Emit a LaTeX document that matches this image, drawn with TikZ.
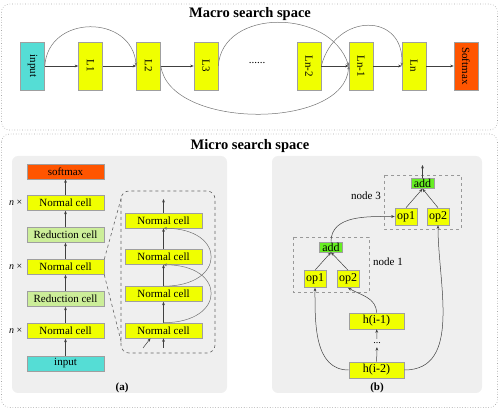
\documentclass[tikz,border=0pt]{standalone}
\usepackage{fontspec}
\setmainfont{Liberation Serif}
\usetikzlibrary{arrows.meta, positioning}

\definecolor{layeryellow}{HTML}{F0FF00}
\definecolor{inputcyan}{HTML}{55DDD5}
\definecolor{outorange}{HTML}{FF5500}
\definecolor{redgreen}{HTML}{CCEE99}
\definecolor{addgreen}{HTML}{66EE22}
\definecolor{panelgray}{HTML}{EFEFEF}

\tikzset{
  box/.style={draw=gray!75, line width=0.6pt, inner sep=0pt},
  layer/.style={box, fill=layeryellow, minimum width=24pt, minimum height=48pt, font=\fontsize{11}{12}\selectfont},
  cell/.style={box, fill=layeryellow, minimum width=77pt, minimum height=15pt, font=\fontsize{11}{12}\selectfont},
  opbox/.style={box, fill=layeryellow, minimum width=22pt, minimum height=17pt, font=\fontsize{12}{13}\selectfont},
  hbox/.style={box, fill=layeryellow, minimum width=55pt, minimum height=16pt, font=\fontsize{12}{13}\selectfont},
  addbox/.style={box, fill=addgreen, minimum width=23pt, minimum height=10pt, font=\fontsize{12}{13}\selectfont},
  link/.style={draw=black!75, line width=0.5pt, -{Stealth[length=3.5pt, width=2.8pt]}},
  skip/.style={draw=black!55, line width=0.5pt, -{Stealth[length=3.5pt, width=2.8pt]}},
}

\begin{document}
\begin{tikzpicture}[x=1pt, y=-1pt]
\useasboundingbox (0,0) rectangle (499,409);

% Outer frames
\draw[gray!70, dotted, line width=0.6pt, rounded corners=8pt] (1.5,4) rectangle (497.5,130);
\draw[gray!70, dotted, line width=0.6pt, rounded corners=8pt] (1.5,134) rectangle (497.5,407.5);
\node[font=\fontsize{14.5}{16}\selectfont\bfseries] at (250,14) {Macro search space};
\node[font=\fontsize{14.5}{16}\selectfont\bfseries] at (250,146) {Micro search space};

% Macro chain
\node[layer, fill=inputcyan] (in) at (32.5,66) {\rotatebox{-90}{input}};
\node[layer] (l1) at (90.5,66) {\rotatebox{-90}{L1}};
\node[layer] (l2) at (148.5,66) {\rotatebox{-90}{L2}};
\node[layer] (l3) at (206,66) {\rotatebox{-90}{L3}};
\node[font=\fontsize{11}{12}\selectfont] (dots) at (257,63) {......};
\node[layer] (ln2) at (309,66) {\rotatebox{-90}{Ln-2}};
\node[layer] (ln1) at (361,66) {\rotatebox{-90}{Ln-1}};
\node[layer] (ln) at (414,66) {\rotatebox{-90}{Ln}};
\node[layer, fill=outorange] (soft) at (466,66) {\rotatebox{-90}{Softmax}};
\draw[link] (in) -- (l1);
\draw[link] (l1) -- (l2);
\draw[link] (l2) -- (l3);
\draw[link] (ln2) -- (ln1);
\draw[link] (ln1) -- (ln);
\draw[link] (ln) -- (soft);
% Skip connections
\draw[skip] (in.east) .. controls (48,14) and (132,14) .. (l2.west);
\draw[skip] (l3.east) .. controls (222,8) and (330,8) .. (ln1.west);
\draw[skip] (l2.east) .. controls (170,130) and (345,130) .. (ln1.west);
\draw[skip] (ln2.east) .. controls (335,12) and (405,12) .. (ln.west);

% Panel (a)
\fill[panelgray, rounded corners=6pt] (12,156) rectangle (227,393);
\node[cell, fill=outorange] (asoft) at (65.5,171.5) {softmax};
\node[cell] (an3) at (65.5,203) {Normal cell};
\node[cell, fill=redgreen] (ar2) at (65.5,235) {Reduction cell};
\node[cell] (an2) at (65.5,267) {Normal cell};
\node[cell, fill=redgreen] (ar1) at (65.5,299) {Reduction cell};
\node[cell] (an1) at (65.5,331) {Normal cell};
\node[cell, fill=inputcyan] (ain) at (65.5,363.5) {input};
\foreach \a/\b in {ain/an1, an1/ar1, ar1/an2, an2/ar2, ar2/an3, an3/asoft}
  \draw[link] (\a) -- (\b);
\foreach \c in {an1, an2, an3}
  \node[font=\fontsize{10}{11}\selectfont, left=1pt of \c] {\textit{n} ×};
\node[font=\fontsize{11}{12}\selectfont\bfseries] at (122,388) {(a)};

% Zoomed stack of normal cells
\draw[gray!80!black, dashed, line width=0.6pt, rounded corners=8pt] (121,191) rectangle (215,353);
\draw[gray!80!black, dashed, line width=0.6pt] (an2.north east) -- (121.5,197);
\draw[gray!80!black, dashed, line width=0.6pt] (an2.south east) -- (121.5,343);
\node[cell] (z1) at (163.5,220.5) {Normal cell};
\node[cell] (z2) at (163.5,257) {Normal cell};
\node[cell] (z3) at (163.5,294) {Normal cell};
\node[cell] (z4) at (163.5,330.5) {Normal cell};
\coordinate (zout) at (163.5,199);
\coordinate (zin1) at (163.5,348);
\coordinate (zin2) at (143,348);
\draw[link] (z1) -- (zout);
\draw[link] (z4) -- (z3);
\draw[link] (z3) -- (z2);
\draw[link] (z2) -- (z1);
\draw[skip] (z3.north) to[out=0, in=0, looseness=2.8] (z1.south);
\draw[skip] (z4.north) to[out=0, in=0, looseness=2.8] (z2.south);
\draw[link] (zin1) -- (z4.south);
\draw[link] (zin2) -- ([xshift=-13pt]z4.south);

% Panel (b)
\fill[panelgray, rounded corners=6pt] (272,156) rectangle (482,393);
\draw[gray!80, dashed, line width=0.6pt] (384,175) rectangle (461,229);
\draw[gray!80, dashed, line width=0.6pt] (293,237) rectangle (369,292);
\node[addbox] (add3) at (422.5,183.5) {add};
\node[opbox] (op31) at (406,216.5) {op1};
\node[opbox] (op32) at (438,216.5) {op2};
\node[addbox] (add1) at (331,247) {add};
\node[opbox] (op11) at (315,279) {op1};
\node[opbox] (op12) at (348,279) {op2};
\node[font=\fontsize{11}{12}\selectfont] at (366,196) {node 3};
\node[font=\fontsize{11}{12}\selectfont] at (388,262) {node 1};
\node[hbox] (hi1) at (376.5,321) {h(i-1)};
\node[font=\fontsize{10}{11}\selectfont] (hdots) at (377,343) {...};
\node[hbox] (hi2) at (376.5,370) {h(i-2)};
\node[font=\fontsize{11}{12}\selectfont\bfseries] at (377,388) {(b)};
\coordinate (bout) at (422.5,165);
\draw[link] (add3) -- (bout);
\draw[link] (op31.north) -- (add3.south);
\draw[link] (op32.north) -- (add3.south);
\draw[link] (op11.north) -- (add1.south);
\draw[link] (op12.north) -- (add1.south);
\draw[link] (hi2) -- (hdots);
\draw[link] (hdots) -- (hi1);
\draw[link] (hi1.north) to[out=90, in=-30] (op12.south);
\draw[link] (hi2.west) to[out=180, in=-90] (op11.south);
\draw[link] (hi2.east) to[out=0, in=-90] (op32.south);
\draw[link] (add1.north) to[out=90, in=180] (op31.west);
\end{tikzpicture}
\end{document}
